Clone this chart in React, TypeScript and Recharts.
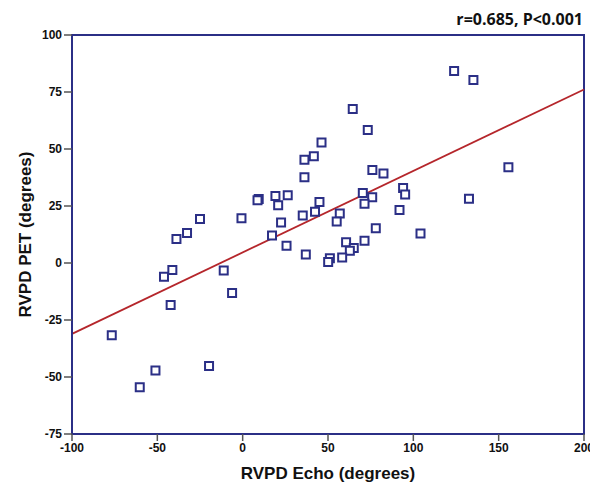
import {
  ScatterChart,
  Scatter,
  XAxis,
  YAxis,
  ZAxis,
  ReferenceLine,
  ReferenceArea,
} from "recharts";

// RVPD Echo (x) vs RVPD PET (y), degrees
const echo = [
  123.9, 135.2, 64.5, 73.3, 46.2, 41.7, 36.2, 36.2, 155.7, 76.0, 82.5, 94.0,
  70.4, 95.2, 26.4, 19.2, 75.9, 132.6, 9.4, 8.7, 45.0, 71.4, 20.8, 91.9, 42.4,
  56.9, 35.2, -0.7, -25.0, 55.1, 22.5, 78.0, -32.6, 104.2, 17.2, -38.8, 71.4,
  60.6, 25.7, 65.1, 62.8, 37.0, 58.3, 51.1, 50.1, -41.2, -11.1, -46.1, -6.2,
  -42.2, -76.7, -19.7, -51.1, -60.3,
];
const pet = [
  84.2, 80.3, 67.5, 58.3, 52.8, 46.8, 45.3, 37.6, 42.0, 40.8, 39.2, 32.9, 30.7,
  30.0, 29.7, 29.4, 28.8, 28.2, 28.1, 27.5, 26.8, 26.0, 25.3, 23.2, 22.5, 21.7,
  20.8, 19.6, 19.3, 18.2, 17.8, 15.2, 13.2, 12.9, 12.1, 10.5, 9.8, 9.1, 7.6,
  6.6, 5.4, 3.7, 2.4, 2.1, 0.4, -3.1, -3.3, -6.0, -13.2, -18.4, -31.7, -45.2,
  -47.2, -54.5,
];

const xTicks = [-100, -50, 0, 50, 100, 150, 200];
const yTicks = [-75, -50, -25, 0, 25, 50, 75, 100];

// fitted regression line end points
const fitX = [-100, 200];
const fitY = [-31.1, 76.1];

const points = echo.map((x, i) => ({ x, y: pet[i] }));

const NAVY = "#2b2f86";
const tickFont = {
  fontFamily: "'Liberation Sans Narrow', 'Liberation Sans', Arial, sans-serif",
  fontSize: 12,
  fontWeight: 700,
  fill: "#111",
};
const labelFont = {
  fontFamily: "'Liberation Sans', Arial, sans-serif",
  fontSize: 17,
  fontWeight: 700,
  fill: "#111",
};

export default function App() {
  return (
    <div style={{ position: "relative", width: 590, height: 475 }}>
      <div
        style={{
          position: "absolute",
          right: 15,
          top: 0,
          fontFamily: "'Open Sans', sans-serif",
          fontWeight: 700,
          fontSize: 16,
          color: "#111",
          whiteSpace: "nowrap",
        }}
      >
        r=0.685, P&lt;0.001
      </div>
      <ScatterChart
        width={590}
        height={475}
        margin={{ top: 27, right: 14, left: 0, bottom: 0 }}
      >
        <XAxis
          type="number"
          dataKey="x"
          domain={[-100, 200]}
          ticks={xTicks}
          interval={0}
          tick={tickFont}
          tickSize={7}
          tickLine={{ stroke: "#555", strokeWidth: 1.5 }}
          axisLine={{ stroke: NAVY, strokeWidth: 2 }}
          height={49}
          label={{
            value: "RVPD Echo (degrees)",
            position: "insideBottom",
            offset: 4,
            style: labelFont,
          }}
        />
        <YAxis
          type="number"
          dataKey="y"
          domain={[-75, 100]}
          ticks={yTicks}
          interval={0}
          tick={tickFont}
          tickSize={8}
          tickLine={{ stroke: "#555", strokeWidth: 1.5 }}
          axisLine={{ stroke: NAVY, strokeWidth: 2 }}
          width={64}
          label={{
            value: "RVPD PET (degrees)",
            angle: -90,
            position: "insideLeft",
            offset: 17,
            style: { ...labelFont, textAnchor: "middle" },
          }}
        />
        <ZAxis range={[42, 42]} />
        <ReferenceArea
          x1={-100}
          x2={200}
          y1={-75}
          y2={100}
          fill="none"
          stroke={NAVY}
          strokeWidth={2}
          ifOverflow="visible"
        />
        <ReferenceLine
          segment={[
            { x: fitX[0], y: fitY[0] },
            { x: fitX[1], y: fitY[1] },
          ]}
          stroke="#b5262b"
          strokeWidth={1.8}
          ifOverflow="visible"
        />
        <Scatter
          data={points}
          shape="square"
          fill="#fff"
          stroke={NAVY}
          strokeWidth={2}
          isAnimationActive={false}
        />
      </ScatterChart>
    </div>
  );
}
